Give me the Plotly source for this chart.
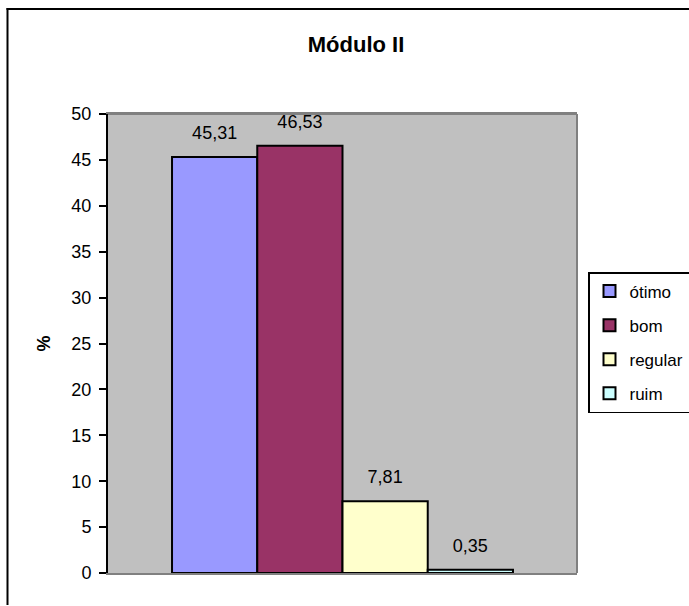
import plotly.graph_objects as go

series = ["ótimo", "bom", "regular", "ruim"]
values = [45.31, 46.53, 7.81, 0.35]
colors = ["#9999FF", "#993366", "#FFFFCC", "#CCFFFF"]
category = [""]
yticks = [0, 5, 10, 15, 20, 25, 30, 35, 40, 45, 50]

W, H = 689, 606
L, R, T, B = 108, 577, 114, 573
pw, ph = R - L, B - T
FONT = "Liberation Sans, Arial"

def px(x):
    return (x - L) / pw

def py(y):
    return (B - y) / ph

fig = go.Figure()
for name, v, c in zip(series, values, colors):
    fig.add_trace(go.Bar(
        name=name, x=category, y=[v], legendgroup=name,
        marker=dict(color=c, line=dict(color="black", width=2)),
        texttemplate="<span style='font-size:18px'>%{y:.2f}</span><br> ",
        textposition="outside",
        textfont=dict(family=FONT, size=10, color="black"),
        cliponaxis=False,
    ))

fig.update_layout(
    width=W, height=H,
    margin=dict(l=L, r=W - R, t=T, b=H - B, autoexpand=False),
    paper_bgcolor="white",
    plot_bgcolor="#C0C0C0",
    barmode="group",
    bargap=0.273,
    bargroupgap=0,
    separators=",.",
    font=dict(family=FONT, size=18, color="black"),
    title=dict(text="<b>Módulo II</b>", x=356 / W, xanchor="center",
               y=1 - 44 / H, yanchor="middle",
               font=dict(size=22, family=FONT)),
    showlegend=True,
    legend=dict(
        x=px(588), xanchor="left", y=py(272), yanchor="top",
        bgcolor="white", bordercolor="black", borderwidth=1.5,
        font=dict(size=17), itemwidth=30, tracegroupgap=9,
        traceorder="grouped",
    ),
    xaxis=dict(showticklabels=False, ticks="", showline=True, linecolor="#808080",
               linewidth=2, mirror=True, showgrid=False),
    yaxis=dict(range=[0, 50], tickvals=yticks, ticks="outside", ticklen=7,
               tickwidth=2, tickcolor="black", showline=True, linecolor="black",
               linewidth=2, showgrid=False, zeroline=False, ticklabelstandoff=4,
               title=dict(text="<b>%</b>", standoff=16, font=dict(size=18))),
    shapes=[
        dict(type="line", xref="paper", yref="paper", x0=px(7.5), x1=px(7.5),
             y0=py(8), y1=py(605), line=dict(color="black", width=2)),
        dict(type="line", xref="paper", yref="paper", x0=px(6.5), x1=px(700),
             y0=py(9), y1=py(9), line=dict(color="black", width=2)),
        dict(type="line", xref="paper", yref="paper", x0=1, x1=1,
             y0=0, y1=1, line=dict(color="#808080", width=2)),
        dict(type="line", xref="paper", yref="paper", x0=0, x1=1,
             y0=1, y1=1, line=dict(color="#808080", width=2)),
    ],
)

fig.write_html("out.html", config={"displayModeBar": False},
               post_script="document.body.style.margin='0';")
